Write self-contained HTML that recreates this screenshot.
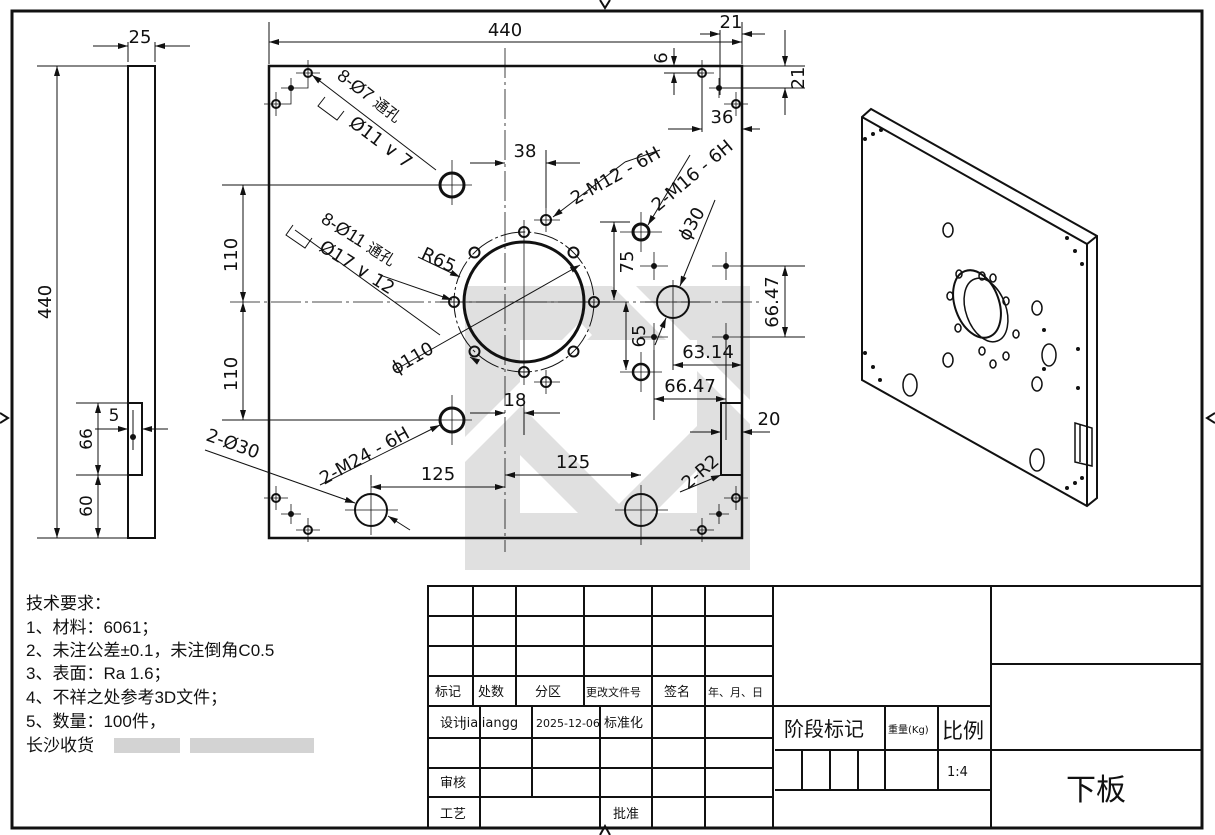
<!DOCTYPE html>
<html><head><meta charset="utf-8"><style>
html,body{margin:0;padding:0;background:#fff;}
svg{display:block;}
text{font-family:"DejaVu Sans","Liberation Sans",sans-serif;fill:#111;}
.cn{font-family:"Liberation Sans","Noto Sans CJK SC",sans-serif;}
</style></head><body>
<svg width="1215" height="835" viewBox="0 0 1215 835" xmlns="http://www.w3.org/2000/svg">
<defs>
<marker id="a" viewBox="0 0 10 6" refX="10" refY="3" markerWidth="10" markerHeight="6" orient="auto-start-reverse" markerUnits="userSpaceOnUse"><path d="M0,0 L10,3 L0,6z" fill="#111"/></marker>
</defs>
<rect width="1215" height="835" fill="#fff"/>
<!-- watermark -->
<rect x="465" y="286" width="285" height="284" fill="#e0e0e0"/>
<g fill="#fff">
<rect x="520" y="340" width="177" height="173"/>
<path d="M612,286 L636,286 L750,400 L750,424z"/>
<path d="M465,437 L465,462 L592,335 L580,322z"/>
<path d="M600,530 L630,530 L750,410 L750,440 L660,530z" opacity="0"/>
</g>
<path d="M520,405 L520,455 L578,513 L628,513z" fill="#e0e0e0"/>
<path d="M610,513 L697,426 L697,470 L654,513z" fill="#e0e0e0"/>
<!-- frame -->
<rect x="12" y="11" width="1190" height="817" fill="none" stroke="#111" stroke-width="3"/>
<path d="M600,0 L605,8 L610,0 M0,413 L8,418 L0,423 M1215,413 L1207,418 L1215,423 M600,835 L605,826 L610,835" fill="none" stroke="#111" stroke-width="2"/>

<g stroke="#111" fill="none" stroke-width="1">
<!-- side view -->
<rect x="128" y="66" width="27" height="472" stroke-width="2"/>
<rect x="128" y="403" width="14" height="72" stroke-width="2"/>
<path d="M37,66 H128 M37,538 H128 M57,66 V538" />
<path d="M57,66 V538" marker-start="url(#a)" marker-end="url(#a)"/>
<path d="M128,62 V42 M155,62 V42 M93,46 H128 M155,46 H190"/>
<path d="M93,46 H128" marker-end="url(#a)"/><path d="M190,46 H155" marker-end="url(#a)"/>
<path d="M76,403 H128 M76,475 H128 M98,403 V538"/>
<path d="M98,403 V475" marker-start="url(#a)" marker-end="url(#a)"/>
<path d="M98,475 V538" marker-start="url(#a)" marker-end="url(#a)"/>
<path d="M95,429 H128" marker-end="url(#a)"/><path d="M168,429 H142" marker-end="url(#a)"/>
<path d="M133,410 V450"/>
</g>
<circle cx="133" cy="437" r="3" fill="#111"/>
<text x="140" y="43" font-size="18" text-anchor="middle">25</text>
<text transform="translate(51,302) rotate(-90)" font-size="18" text-anchor="middle">440</text>
<text transform="translate(92,439) rotate(-90)" font-size="17" text-anchor="middle">66</text>
<text transform="translate(92,506) rotate(-90)" font-size="17" text-anchor="middle">60</text>
<text x="114" y="421" font-size="17" text-anchor="middle">5</text>

<!-- main view -->
<g stroke="#111" fill="none">
<rect x="269" y="66" width="473" height="472" stroke-width="2.5"/>
<path d="M505,48 V552 M230,302 H762" stroke-width="0.8" stroke-dasharray="30,4,3,4"/>
<path d="M524,220 V385 M440,302 H610" stroke-width="0.8"/>
<circle cx="524" cy="302" r="60" stroke-width="3"/>
<circle cx="524" cy="302" r="70" stroke-width="1" stroke-dasharray="25,3,3,3"/>
<g stroke-width="2">
<circle cx="594" cy="302" r="5"/><circle cx="454" cy="302" r="5"/>
<circle cx="524" cy="232" r="5"/><circle cx="524" cy="372" r="5"/>
<circle cx="573.5" cy="252.5" r="5"/><circle cx="474.5" cy="252.5" r="5"/>
<circle cx="573.5" cy="351.5" r="5"/><circle cx="474.5" cy="351.5" r="5"/>
<circle cx="546" cy="220" r="5"/><circle cx="546" cy="382" r="5"/>
<circle cx="452" cy="185" r="12" stroke-width="3"/>
<circle cx="452" cy="420" r="12" stroke-width="3"/>
<circle cx="641" cy="232" r="8" stroke-width="3"/>
<circle cx="641" cy="372" r="8" stroke-width="2.5"/>
<circle cx="673" cy="302" r="16"/>
<circle cx="371" cy="510" r="16"/>
<circle cx="641" cy="510" r="16"/>
<circle cx="308" cy="73" r="4"/><circle cx="276" cy="104" r="4"/>
<circle cx="702" cy="73" r="4"/><circle cx="736" cy="104" r="4"/>
<circle cx="276" cy="498" r="4"/><circle cx="308" cy="530" r="4"/>
<circle cx="736" cy="498" r="4"/><circle cx="702" cy="530" r="4"/>
</g>
<rect x="721" y="403" width="21" height="72" stroke-width="2"/>
<g stroke-width="0.8">
<path d="M431,185 H472 M452,160 V205 M431,420 H472 M452,395 V445 M620,232 H662 M641,212 V252 M620,372 H662 M641,352 V392"/>
<path d="M645,302 H700 M673,280 V325 M345,510 H398 M371,485 V535 M615,510 H668 M641,485 V545"/>
<path d="M640,266 H668 M654,252 V280 M712,266 H740 M726,252 V280 M640,337 H668 M654,323 V350 M712,337 H740 M726,323 V350"/>
<path d="M534,220 H560 M546,208 V232 M534,382 H560 M546,370 V394"/>
<path d="M296,73 H320 M308,60 V86 M264,104 H288 M276,92 V116 M281,88 H301 M291,78 V98 M291,88 V104 H276 M308,73 V88 H291"/>
<path d="M690,73 H714 M702,60 V86 M724,104 H748 M736,92 V116 M709,88 H729 M719,78 V98"/>
<path d="M264,498 H288 M276,486 V510 M296,530 H320 M308,518 V542 M281,514 H301 M291,504 V524"/>
<path d="M724,498 H748 M736,486 V510 M690,530 H714 M702,518 V542 M709,514 H729 M719,504 V524"/>
</g>
</g>
<g fill="#111">
<circle cx="291" cy="88" r="3"/><circle cx="719" cy="88" r="3"/><circle cx="291" cy="514" r="3"/><circle cx="719" cy="514" r="3"/>
<circle cx="654" cy="266" r="3"/><circle cx="726" cy="266" r="3"/><circle cx="654" cy="337" r="3"/><circle cx="726" cy="337" r="3"/>
</g>

<!-- dimensions main -->
<g stroke="#111" fill="none" stroke-width="1">
<path d="M269,64 V22 M742,64 V22"/>
<path d="M269,42 H742" marker-start="url(#a)" marker-end="url(#a)"/>
<path d="M720,30 V95 M742,30 V60"/>
<path d="M700,34 H720" marker-end="url(#a)"/><path d="M765,34 H742" marker-end="url(#a)"/>
<path d="M674,48 V66" marker-end="url(#a)"/><path d="M674,95 V73" marker-end="url(#a)"/>
<path d="M664,73 H702 M742,66 H805 M719,88 H805"/>
<path d="M785,30 V66" marker-end="url(#a)"/><path d="M785,115 V88" marker-end="url(#a)"/>
<path d="M702,73 V132"/>
<path d="M668,129 H702" marker-end="url(#a)"/><path d="M760,129 H742" marker-end="url(#a)"/>
<path d="M470,163 H505" marker-end="url(#a)"/><path d="M580,163 H546" marker-end="url(#a)"/>
<path d="M546,150 V208"/>
<path d="M222,185 H440 M222,420 H440"/>
<path d="M243,185 V302" marker-start="url(#a)" marker-end="url(#a)"/>
<path d="M243,302 V420" marker-start="url(#a)" marker-end="url(#a)"/>
<path d="M600,222 H630"/>
<path d="M614,222 V300" marker-start="url(#a)" marker-end="url(#a)"/>
<path d="M626,302 V370" marker-start="url(#a)" marker-end="url(#a)"/>
<path d="M740,266 H805 M740,337 H805"/>
<path d="M785,266 V337" marker-start="url(#a)" marker-end="url(#a)"/>
<path d="M673,320 V370 M726,340 V440 M654,350 V420"/>
<path d="M673,365 H742" marker-start="url(#a)" marker-end="url(#a)"/>
<path d="M654,399 H726" marker-start="url(#a)" marker-end="url(#a)"/>
<path d="M470,413 H505" marker-end="url(#a)"/><path d="M560,413 H524" marker-end="url(#a)"/>
<path d="M524,395 V435"/>
<path d="M690,432 H721" marker-end="url(#a)"/><path d="M770,432 H742" marker-end="url(#a)"/>
<path d="M371,485 V475"/>
<path d="M371,487 H505" marker-start="url(#a)" marker-end="url(#a)"/>
<path d="M505,475 H641" marker-start="url(#a)" marker-end="url(#a)"/>
<!-- leaders -->
<path d="M436,170 L312,75" marker-end="url(#a)"/>
<path d="M325,97 L318,106 L337,120 L344,111"/>
<path d="M440,335 L295,230" />
<path d="M380,275 L452,300" marker-end="url(#a)"/>
<path d="M293,225 L286,235 L305,248 L312,238"/>
<path d="M418,257 L460,277" marker-end="url(#a)"/>
<path d="M625,162 L553,217" marker-end="url(#a)"/>
<path d="M660,150 L625,162"/>
<path d="M690,155 L648,225" marker-end="url(#a)"/>
<path d="M715,200 L680,286" marker-end="url(#a)"/>
<path d="M655,345 L666,318" marker-end="url(#a)"/>
<path d="M395,370 L580,265" marker-end="url(#a)"/>
<path d="M475,360 L470,357" marker-end="url(#a)"/>
<path d="M320,485 L440,425" marker-end="url(#a)"/>
<path d="M205,450 L355,503" marker-end="url(#a)"/>
<path d="M410,530 L388,516" marker-end="url(#a)"/>
<path d="M680,492 L721,475" marker-end="url(#a)"/>
</g>
<g font-size="18">
<text x="505" y="36" text-anchor="middle">440</text>
<text x="731" y="28" text-anchor="middle">21</text>
<text transform="translate(667,58) rotate(-90)" text-anchor="middle">6</text>
<text transform="translate(804,78) rotate(-90)" text-anchor="middle">21</text>
<text x="722" y="123" text-anchor="middle">36</text>
<text x="525" y="157" text-anchor="middle">38</text>
<text transform="translate(237,255) rotate(-90)" text-anchor="middle">110</text>
<text transform="translate(237,374) rotate(-90)" text-anchor="middle">110</text>
<text transform="translate(633,262) rotate(-90)" text-anchor="middle">75</text>
<text transform="translate(645,336) rotate(-90)" text-anchor="middle">65</text>
<text transform="translate(778,302) rotate(-90)" text-anchor="middle">66.47</text>
<text x="708" y="358" text-anchor="middle">63.14</text>
<text x="690" y="392" text-anchor="middle">66.47</text>
<text x="515" y="406" text-anchor="middle">18</text>
<text x="769" y="425" text-anchor="middle">20</text>
<text x="438" y="480" text-anchor="middle">125</text>
<text x="573" y="468" text-anchor="middle">125</text>
<text transform="translate(420,258) rotate(25)">R65</text>
<text transform="translate(395,375) rotate(-30)">ϕ110</text>
<text transform="translate(688,242) rotate(-60)">ϕ30</text>
<text transform="translate(575,205) rotate(-29)">2-M12 - 6H</text>
<text transform="translate(658,212) rotate(-40)">2-M16 - 6H</text>
<text transform="translate(324,485) rotate(-29)">2-M24 - 6H</text>
<text transform="translate(205,440) rotate(20)">2-Ø30</text>
<text transform="translate(688,490) rotate(-40)">2-R2</text>
<text class="cn" transform="translate(336,78) rotate(37)">8-Ø7 <tspan font-size="15">通孔</tspan></text>
<text transform="translate(348,125) rotate(37)">Ø11 ∨ 7</text>
<text class="cn" transform="translate(320,222) rotate(32)">8-Ø11 <tspan font-size="15">通孔</tspan></text>
<text transform="translate(318,250) rotate(32)">Ø17 ∨ 12</text>
</g>

<!-- 3D view -->
<g stroke="#111" fill="none" stroke-width="2">
<path d="M862,117 L871,109 L1097,236 L1097,498 L1087,506 L862,380 Z"/>
<path d="M862,117 L1087,244 L1097,236 M1087,244 V506"/>
<ellipse cx="977" cy="304" rx="22" ry="35" transform="rotate(-20 977 304)"/>
<ellipse cx="986" cy="310" rx="20" ry="33" transform="rotate(-20 986 310)" stroke-width="1.5"/>
<g stroke-width="1.5">
<ellipse cx="948" cy="230" rx="5" ry="7"/><ellipse cx="948" cy="360" rx="5" ry="7"/>
<ellipse cx="1037" cy="308" rx="5" ry="7"/><ellipse cx="1037" cy="384" rx="5" ry="7"/>
<ellipse cx="1049" cy="355" rx="7" ry="11"/>
<ellipse cx="910" cy="385" rx="7" ry="11"/><ellipse cx="1037" cy="460" rx="7" ry="11"/>
<ellipse cx="959" cy="274" rx="3" ry="4"/><ellipse cx="982" cy="276" rx="3" ry="4"/><ellipse cx="993" cy="278" rx="3" ry="4"/>
<ellipse cx="1006" cy="301" rx="3" ry="4"/><ellipse cx="950" cy="296" rx="3" ry="4"/>
<ellipse cx="958" cy="328" rx="3" ry="4"/><ellipse cx="1016" cy="334" rx="3" ry="4"/>
<ellipse cx="982" cy="351" rx="3" ry="4"/><ellipse cx="1006" cy="356" rx="3" ry="4"/><ellipse cx="993" cy="364" rx="3" ry="4"/>
</g>
<path d="M1075,423 L1092,428 L1092,466 L1075,462 Z M1080,425 V462" stroke-width="1.5"/>
</g>
<g fill="#111">
<circle cx="865" cy="139" r="2"/><circle cx="873" cy="134" r="2"/><circle cx="881" cy="130" r="2"/>
<circle cx="865" cy="353" r="2"/><circle cx="873" cy="367" r="2"/><circle cx="880" cy="380" r="2"/>
<circle cx="1067" cy="238" r="2"/><circle cx="1075" cy="251" r="2"/><circle cx="1082" cy="264" r="2"/>
<circle cx="1044" cy="330" r="2"/><circle cx="1044" cy="369" r="2"/><circle cx="1078" cy="349" r="2"/><circle cx="1078" cy="388" r="2"/>
<circle cx="1067" cy="488" r="2"/><circle cx="1075" cy="483" r="2"/><circle cx="1082" cy="478" r="2"/>
</g>

<!-- tech requirements -->
<g class="cn" font-size="17">
<text x="26" y="609" class="cn">技术要求：</text>
<text x="26" y="633" class="cn">1、材料：6061；</text>
<text x="26" y="656" class="cn">2、未注公差±0.1，未注倒角C0.5</text>
<text x="26" y="679" class="cn">3、表面：Ra 1.6；</text>
<text x="26" y="703" class="cn">4、不祥之处参考3D文件；</text>
<text x="26" y="727" class="cn">5、数量：100件，</text>
<text x="26" y="751" class="cn">长沙收货</text>
</g>
<rect x="114" y="738" width="66" height="15" fill="#c8c8c8" opacity="0.8"/>
<rect x="190" y="738" width="124" height="15" fill="#c8c8c8" opacity="0.8"/>

<!-- title block -->
<g stroke="#111" fill="none" stroke-width="2">
<rect x="428" y="586" width="774" height="242"/>
<path d="M428,616 H773 M428,646 H773 M428,676 H773 M428,706 H991 M428,738 H773 M428,768 H773 M428,797 H773"/>
<path d="M473,586 V706 M516,586 V706 M584,586 V706 M652,586 V706 M705,586 V828 M773,586 V828"/>
<path d="M480,706 V828 M532,706 V797 M600,706 V828 M652,706 V828"/>
<path d="M991,586 V828 M991,664 H1202 M991,750 H1202"/>
<path d="M775,750 H991 M775,790 H991 M885,706 V790 M938,706 V790 M802,750 V790 M830,750 V790 M858,750 V790"/>
</g>
<g class="cn" font-size="13" fill="#333">
<text x="435" y="696">标记</text><text x="478" y="696">处数</text><text x="535" y="696">分区</text>
<text x="586" y="696" font-size="11">更改文件号</text><text x="664" y="696">签名</text><text x="708" y="696" font-size="11">年、月、日</text>
<text x="440" y="727">设计</text>
<text x="463" y="727" font-family="Liberation Serif" font-size="13">jialiangg</text>
<text x="536" y="727" font-size="11" font-family="Liberation Sans">2025-12-06</text>
<text x="604" y="727">标准化</text>
<text x="440" y="787">审核</text><text x="440" y="818">工艺</text><text x="613" y="818">批准</text>
<text x="784" y="736" font-size="20">阶段标记</text>
<text x="888" y="733" font-size="10">重量(Kg)</text>
<text x="942" y="738" font-size="21">比例</text>
<text x="947" y="776" font-family="Liberation Mono" font-size="13">1:4</text>
<text x="1066" y="800" font-size="30" fill="#222">下板</text>
</g>
</svg>
</body></html>
